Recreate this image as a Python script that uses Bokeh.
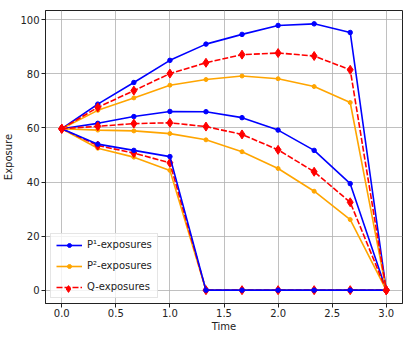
from bokeh.plotting import figure
from bokeh.models import Range1d, FixedTicker, PrintfTickFormatter, Legend, LegendItem
from bokeh.embed import file_html
from bokeh.resources import INLINE

# ---- data ----
time = [0.0, 1/3, 2/3, 1.0, 4/3, 5/3, 2.0, 7/3, 8/3, 3.0]

p1_upper = [59.7, 68.8, 76.8, 85.0, 91.0, 94.6, 97.9, 98.5, 95.3, 0.0]
p2_upper = [59.7, 66.5, 71.1, 75.8, 77.9, 79.2, 78.2, 75.3, 69.4, 0.0]
q_upper = [59.7, 67.6, 73.8, 80.1, 84.1, 87.1, 87.7, 86.6, 81.5, 0.0]

p1_mid = [59.7, 61.7, 64.2, 66.1, 66.0, 63.8, 59.2, 51.7, 39.4, 0.0]
p2_mid = [59.7, 59.2, 58.9, 57.9, 55.6, 51.2, 45.0, 36.6, 26.1, 0.0]
q_mid = [59.7, 60.6, 61.6, 61.9, 60.5, 57.6, 51.9, 43.8, 32.5, 0.0]

p1_low = [59.7, 54.0, 51.7, 49.4, 0.0, 0.0, 0.0, 0.0, 0.0, 0.0]
p2_low = [59.7, 52.5, 49.2, 44.3, 0.0, 0.0, 0.0, 0.0, 0.0, 0.0]
q_low = [59.7, 53.5, 50.7, 47.1, 0.0, 0.0, 0.0, 0.0, 0.0, 0.0]

x_ticks = [0.0, 0.5, 1.0, 1.5, 2.0, 2.5, 3.0]
y_ticks = [0, 20, 40, 60, 80, 100]

labels = ["P\u00b9-exposures", "P\u00b2-exposures", "Q-exposures"]

BLUE = "#0000ff"
ORANGE = "#ffa500"
RED = "#ff0000"
FONT = "DejaVu Sans"

p = figure(frame_width=357, frame_height=293, output_backend="svg", toolbar_location=None,
           x_range=Range1d(-0.15, 3.15), y_range=Range1d(-4.93, 103.43),
           min_border_left=39, min_border_right=2, min_border_top=10, min_border_bottom=20)

p.background_fill_color = "white"
p.border_fill_color = "white"
p.outline_line_color = "#222222"
p.outline_line_width = 1

for ax in (p.xaxis[0], p.yaxis[0]):
    ax.major_tick_in = 0
    ax.major_tick_out = 4
    ax.minor_tick_out = 0
    ax.minor_tick_in = 0
    ax.major_label_text_font = FONT
    ax.major_label_text_font_size = "10px"
    ax.major_label_text_color = "#222222"
    ax.axis_label_text_font = FONT
    ax.axis_label_text_font_size = "10px"
    ax.axis_label_text_font_style = "normal"
    ax.axis_label_text_color = "#222222"
    ax.axis_line_color = "#222222"
    ax.major_tick_line_color = "#222222"
    ax.major_label_standoff = 2
    ax.axis_label_standoff = 3
p.xaxis[0].major_label_standoff = 1
p.xaxis[0].axis_label_standoff = 1

p.xaxis.ticker = FixedTicker(ticks=x_ticks)
p.xaxis.formatter = PrintfTickFormatter(format="%.1f")
p.yaxis.ticker = FixedTicker(ticks=y_ticks)
p.xaxis.axis_label = "Time"
p.yaxis.axis_label = "Exposure"

p.grid.grid_line_color = "#b0b0b0"
p.grid.grid_line_width = 0.8


def p1(y):
    l = p.line(time, y, line_color=BLUE, line_width=1.6)
    s = p.scatter(time, y, marker="circle", size=4.5, fill_color=BLUE, line_color=BLUE)
    return [l, s]


def p2(y):
    l = p.line(time, y, line_color=ORANGE, line_width=1.6)
    s = p.scatter(time, y, marker="circle", size=4, fill_color=ORANGE, line_color=ORANGE)
    return [l, s]


def q(y):
    l = p.line(time, y, line_color=RED, line_width=1.6, line_dash="6 2")
    s = p.scatter(time, y, marker="diamond", size=9, fill_color=RED, line_color=RED)
    return [l, s]


# lowest path: its blue line sits over its red diamonds on the zero line
p2(p2_low)
q(q_low)
p1(p1_low)

p1(p1_mid)
p2(p2_mid)
q(q_mid)

r1 = p1(p1_upper)
r2 = p2(p2_upper)
r3 = q(q_upper)

# main legend: small glyph box so the dot markers stay small
legend = Legend(items=[LegendItem(label=labels[0], renderers=r1),
                       LegendItem(label=labels[1], renderers=r2),
                       LegendItem(label=labels[2], renderers=[r3[0]])],
                location="bottom_left")
legend.margin = 5
legend.padding = 5
legend.spacing = 10
legend.label_height = 10
legend.glyph_height = 10
legend.glyph_width = 26
legend.label_standoff = 5
legend.label_text_font = FONT
legend.label_text_font_size = "10px"
legend.label_text_color = "#222222"
legend.label_text_baseline = "middle"
legend.border_line_color = "#cccccc"
legend.border_line_width = 1
legend.background_fill_color = "white"
legend.background_fill_alpha = 0.8
p.add_layout(legend, "center")

# overlay legend that only draws the larger diamond marker on the Q row
legend_q = Legend(items=[LegendItem(label=" ", renderers=[r3[1]])],
                  location=(10, 6.5))
legend_q.margin = 0
legend_q.padding = 0
legend_q.spacing = 0
legend_q.label_height = 17
legend_q.glyph_height = 17
legend_q.glyph_width = 26
legend_q.label_standoff = 0
legend_q.label_width = 1
legend_q.label_text_font_size = "1px"
legend_q.border_line_color = None
legend_q.background_fill_color = None
legend_q.background_fill_alpha = 0
p.add_layout(legend_q, "center")

open("out.html", "w").write(file_html(p, INLINE))
